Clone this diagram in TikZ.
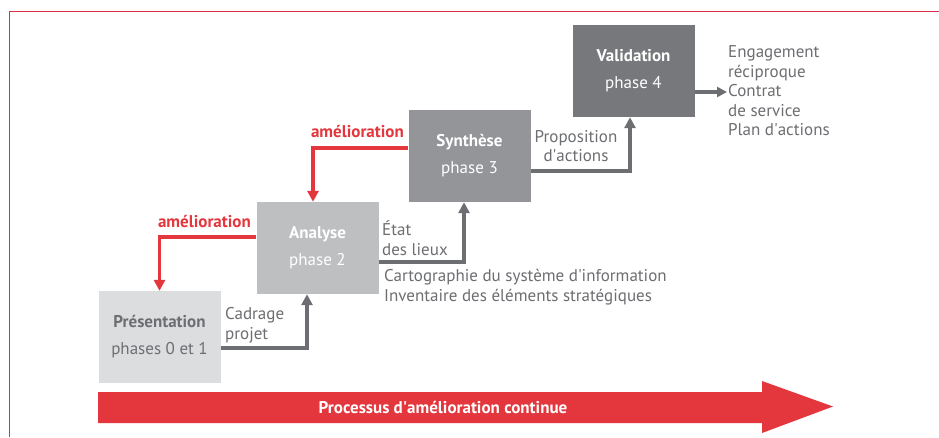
\documentclass[tikz,border=0pt]{standalone}
\usepackage{fontspec}
\setmainfont{PT Sans}
\usetikzlibrary{arrows.meta,calc}
\definecolor{framered}{HTML}{D9304A}
\definecolor{arrred}{HTML}{E3363D}
\definecolor{txtgray}{HTML}{6D6E71}
\definecolor{boxA}{HTML}{DCDDDF}
\definecolor{boxB}{HTML}{BEBFC1}
\definecolor{boxC}{HTML}{939598}
\definecolor{boxD}{HTML}{77787B}
\newcommand\ap{\textquotesingle}
\begin{document}
\begin{tikzpicture}[x=1pt,y=-1pt,
  font=\fontsize{17}{19.5}\selectfont,
  phasebox/.style={minimum width=122pt,minimum height=92pt,inner sep=0pt,align=center,font=\fontsize{17}{27}\selectfont},
  grayarrow/.style={draw=txtgray,line width=3.6pt,-{Triangle[length=11pt,width=11pt]}},
  redarrow/.style={draw=arrred,line width=3.6pt,-{Triangle[length=11pt,width=11pt]}},
  lbl/.style={text=txtgray,inner sep=0pt,align=left},
  redlbl/.style={text=arrred,inner sep=0pt,font=\fontsize{17}{19.5}\selectfont\bfseries}]
\useasboundingbox (0,0) rectangle (939,437);
\fill[white] (0,0) rectangle (939,437);
% frame
\coordinate (fbl) at (9.5,437);
\coordinate (ftl) at (9.5,11.5);
\coordinate (ftr) at (939,11.5);
\draw[framered,line width=1.2pt] (fbl) -- (ftl) -- (ftr);
% boxes
\node[phasebox,fill=boxA,text=txtgray] (pres) at (159.5,337) {\textbf{Présentation}\\phases 0 et 1};
\node[phasebox,fill=boxB,text=white] (ana) at (317.5,248) {\textbf{Analyse}\\phase 2};
\node[phasebox,fill=boxC,text=white] (syn) at (469.5,156) {\textbf{Synthèse}\\phase 3};
\node[phasebox,fill=boxD,text=white] (val) at (633.5,71) {\textbf{Validation}\\phase 4};
% gray arrows
\draw[grayarrow] ($(pres.east)+(0,11)$) -| ($(ana.south)+(-10.5,0)$);
\draw[grayarrow] ($(ana.east)+(0,14)$) -| ($(syn.south)+(-5.5,0)$);
\draw[grayarrow] ($(syn.east)+(0,15)$) -| ($(val.south)+(-3.5,0)$);
\coordinate (valout) at (727,92);
\draw[draw=txtgray,line width=3.6pt,-{Triangle[length=10pt,width=10pt]}] ($(val.east)+(0,21)$) -- (valout);
% red arrows
\draw[redarrow] ($(ana.west)+(0,-11)$) -| (pres.north);
\draw[redarrow] ($(syn.west)+(0,-8)$) -| ($(ana.north)+(-4.5,0)$);
% labels
\node[redlbl,anchor=east] (am1) at (251,221) {amélioration};
\node[redlbl,anchor=east] (am2) at (404,131) {amélioration};
\node[lbl,anchor=west] (cad) at (225,325) {Cadrage\\projet};
\node[lbl,anchor=west] (etat) at (382,238) {État\\des lieux};
\node[lbl,anchor=west] (carto) at (384,287) {Cartographie du système d\ap information\\Inventaire des éléments stratégiques};
\node[lbl,align=center] (prop) at (576,146) {Proposition\\d\ap actions};
\node[lbl,anchor=west] (eng) at (728,91) {Engagement\\réciproque\\Contrat\\de service\\Plan d\ap actions};
% big arrow
\fill[arrred] (98,392) -- (762,392) -- (762,381) -- (833,406.5) -- (762,433) -- (762,423) -- (98,423) -- cycle;
\node[text=white,font=\fontsize{17}{19.5}\selectfont\bfseries] (proc) at (443,407.5) {Processus d\ap amélioration continue};
\end{tikzpicture}
\end{document}
